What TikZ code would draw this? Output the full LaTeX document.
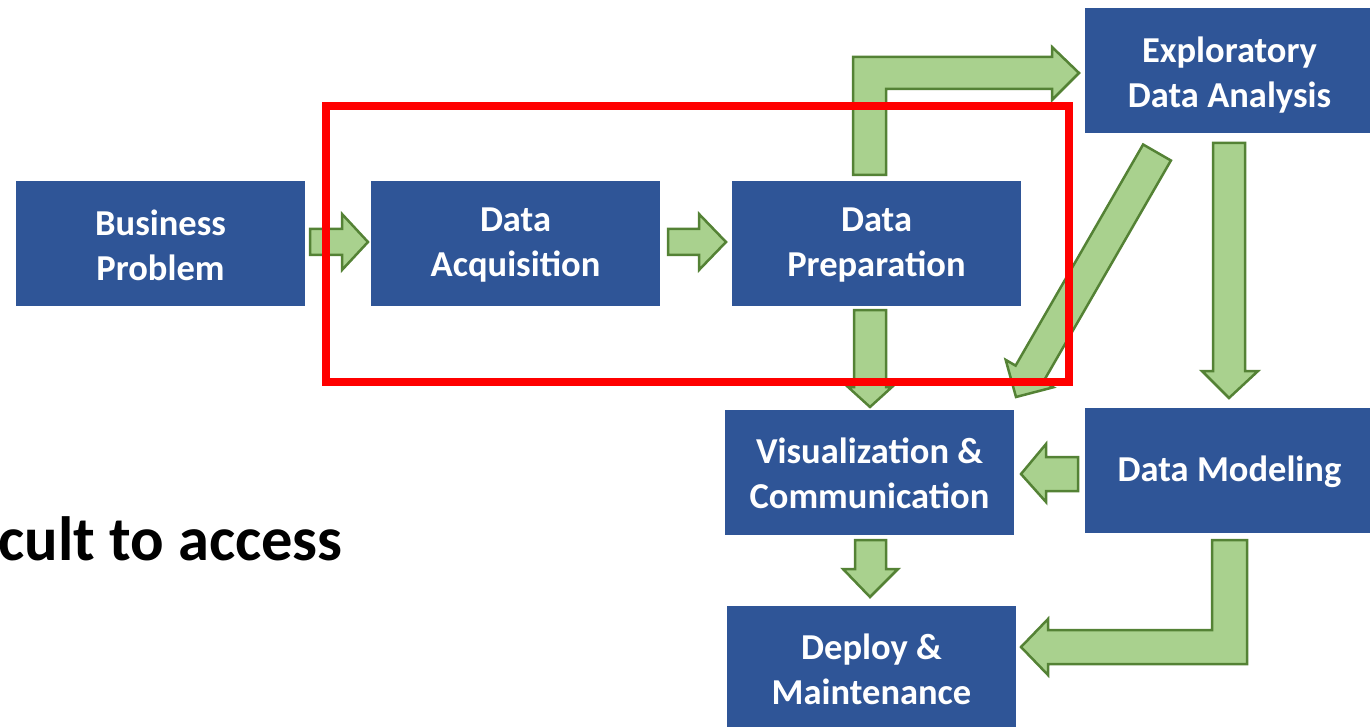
\documentclass[tikz,border=0pt]{standalone}
\usepackage{fontspec}
\setmainfont{Carlito}
\definecolor{boxblue}{HTML}{2F5597}
\definecolor{arrfill}{HTML}{A9D18E}
\definecolor{arrline}{HTML}{548235}
\definecolor{redline}{HTML}{FF0000}
\begin{document}
\begin{tikzpicture}[x=1pt,y=-1pt,
  stagebox/.style={rectangle, fill=boxblue, draw=none, minimum width=289pt, minimum height=125pt, inner sep=0pt},
  stagetext/.style={inner sep=0pt, align=center, text=white, font=\fontsize{36.5}{45}\selectfont\bfseries},
  fatarrow/.style={fill=arrfill, draw=arrline, line width=2.5pt, line join=miter},
  focus/.style={draw=redline, line width=8pt}]
\useasboundingbox (0,0) rectangle (1370,727);
% boxes
\node[stagebox] (bp) at (160.5,243.5) {};
\node[stagebox] (da) at (515.5,243.5) {};
\node[stagebox] (dp) at (876.5,243.5) {};
\node[stagebox] (eda) at (1229.5,71) {};
\node[stagebox] (vc) at (869.5,472.5) {};
\node[stagebox] (dm) at (1229.5,470.5) {};
\node[stagebox] (dep) at (871.5,668.5) {};
\node[stagetext] (bpt) at ([yshift=-2pt]bp.center) {Business\\Problem};
\node[stagetext] (dat) at ([yshift=-2pt]da.center) {Data\\Acquisition};
\node[stagetext] (dpt) at ([yshift=-2pt]dp.center) {Data\\Preparation};
\node[stagetext] (edat) at ([yshift=-4.5pt]eda.center) {Exploratory\\Data Analysis};
\node[stagetext] (vct) at ([yshift=-1pt]vc.center) {Visualization \&\\Communication};
\node[stagetext] (dmt) at ([yshift=-1pt]dm.center) {Data Modeling};
\node[stagetext] (dept) at ([yshift=-1pt]dep.center) {Deploy \&\\Maintenance};
% text
\node[anchor=base east, inner sep=0pt, font=\fontsize{62.5}{72}\selectfont\bfseries] (txt) at (343,560) {cult to access};
% arrows
\draw[fatarrow] (310,229) -- (342,229) -- (342,214) -- (368,242) -- (342,270) -- (342,255) -- (310,255) -- cycle;
\draw[fatarrow] (668,229) -- (699,229) -- (699,214) -- (726,242) -- (699,270) -- (699,255) -- (668,255) -- cycle;
\draw[fatarrow] (853,175) -- (853,57) -- (1052,57) -- (1052,47) -- (1079,73) -- (1052,100) -- (1052,89) -- (886,89) -- (886,175) -- cycle;
\draw[fatarrow] (854,310) -- (886,310) -- (886,387) -- (892,387) -- (870,407) -- (848,387) -- (854,387) -- cycle;
\draw[fatarrow] (1143.1,144.5) -- (1170.9,160.5) -- (1043.4,381.6) -- (1053.3,387.3) -- (1016,397) -- (1005.7,359.9) -- (1015.6,365.6) -- cycle;
\draw[fatarrow] (1213,143) -- (1245,143) -- (1245,371) -- (1258,371) -- (1229,398) -- (1202,371) -- (1213,371) -- cycle;
\draw[fatarrow] (1078,457) -- (1078,491) -- (1046,491) -- (1046,502) -- (1021,474) -- (1046,444) -- (1046,457) -- cycle;
\draw[fatarrow] (855,540) -- (886,540) -- (886,569) -- (898,569) -- (870,597) -- (843,569) -- (855,569) -- cycle;
\draw[fatarrow] (1212,540) -- (1247,540) -- (1247,664) -- (1048,664) -- (1048,675) -- (1021,647) -- (1048,619) -- (1048,630) -- (1212,630) -- cycle;
% red focus rectangle
\draw[focus] (326,106) rectangle (1069,382);
\end{tikzpicture}
\end{document}
